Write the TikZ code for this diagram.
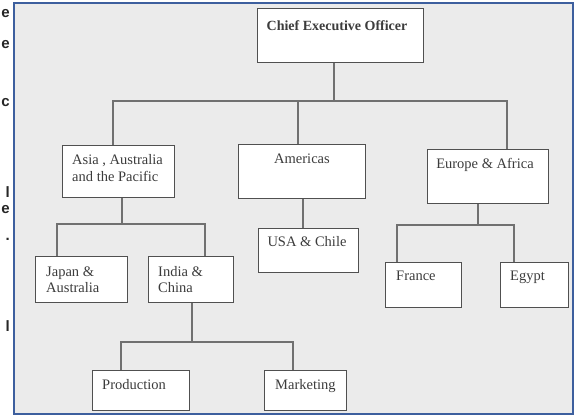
\documentclass[tikz,border=0pt]{standalone}
\usepackage{fontspec}
\setmainfont{Liberation Serif}
\newfontfamily\edgefont{Liberation Sans}
\definecolor{boxline}{HTML}{505050}
\definecolor{linkgray}{HTML}{707070}
\definecolor{txt}{HTML}{3C3C3C}
\definecolor{framebl}{HTML}{3D5F9E}
\definecolor{panel}{HTML}{EBEBEB}
\begin{document}
\begin{tikzpicture}[x=1pt,y=-1pt,
  box/.style={draw=boxline, fill=white, line width=1.3pt, rectangle,
    inner sep=0pt, anchor=north west},
  lbl/.style={text=txt, font=\fontsize{14.5}{17}\selectfont, inner sep=0pt,
    anchor=base west},
  lblc/.style={lbl, anchor=base},
  link/.style={draw=linkgray, line width=1.4pt},
  edgeglyph/.style={text=black!85, font=\edgefont\bfseries\fontsize{15}{15}\selectfont,
    inner sep=0pt, anchor=base east}]
\useasboundingbox (0,0) rectangle (575,416);

% page background and framed panel
\fill[white] (0,0) rectangle (575,416);
\fill[panel] (14,3) rectangle (573,414);
\draw[framebl, line width=2.4pt] (14,3) rectangle (573,414);

% ends of the neighbouring text column
\begin{scope}
  \clip (0,0) rectangle (11,416);
  \node[edgeglyph] (g1) at (10,17) {e};
  \node[edgeglyph] (g2) at (10,48) {e};
  \node[edgeglyph] (g3) at (10,106) {c};
  \node[edgeglyph] (g4) at (10,197) {l};
  \node[edgeglyph] (g5) at (10,213) {e};
  \node[edgeglyph] (g6) at (10,240) {.};
  \node[edgeglyph] (g7) at (10,331) {l};
\end{scope}

% boxes
\node[box, minimum width=166pt, minimum height=54pt] (ceo)    at (257,8)   {};
\node[box, minimum width=112pt, minimum height=52pt] (asia)   at (62,145)  {};
\node[box, minimum width=127pt, minimum height=54pt] (amer)   at (238,144) {};
\node[box, minimum width=121pt, minimum height=54pt] (eur)    at (427,149) {};
\node[box, minimum width=100pt, minimum height=44pt] (usa)    at (258,228) {};
\node[box, minimum width=92pt,  minimum height=46pt] (japan)  at (35,256)  {};
\node[box, minimum width=85pt,  minimum height=46pt] (india)  at (148,256) {};
\node[box, minimum width=76pt,  minimum height=45pt] (france) at (385,262) {};
\node[box, minimum width=68pt,  minimum height=45pt] (egypt)  at (500,262) {};
\node[box, minimum width=97pt,  minimum height=40pt] (prod)   at (92,370)  {};
\node[box, minimum width=82pt,  minimum height=40pt] (mkt)    at (264,370) {};

% labels
\node[lblc, font=\bfseries\fontsize{14}{17}\selectfont] (tceo) at (337,30) {Chief Executive Officer};
\node[lbl] (tasia1) at (72,164) {Asia , Australia};
\node[lbl] (tasia2) at (72,181) {and the Pacific};
\node[lblc] (tamer) at (302,163) {Americas};
\node[lblc] (teur) at (485,168) {Europe \& Africa};
\node[lblc] (tusa) at (307,246) {USA \& Chile};
\node[lbl] (tjap1) at (46,276) {Japan \&};
\node[lbl] (tjap2) at (46,292) {Australia};
\node[lbl] (tind1) at (158,276) {India \&};
\node[lbl] (tind2) at (158,292) {China};
\node[lbl] (tfra) at (396,280) {France};
\node[lbl] (tegy) at (510,280) {Egypt};
\node[lbl] (tprod) at (102,389) {Production};
\node[lbl] (tmkt) at (275,389) {Marketing};

% junction points
\coordinate (jtop) at (334,101);
\coordinate (jasia) at (122,224);
\coordinate (jeur) at (478,225);
\coordinate (jind) at (192,342);

% connectors
\draw[link] (ceo.south -| jtop) -- (jtop);
\draw[link] (asia.north -| 113,0) |- (jtop) -| (eur.north -| 507,0);
\draw[link] (amer.north -| 298,0) -- (298,101);
\draw[link] (asia.south -| jasia) -- (jasia);
\draw[link] (japan.north -| 57,0) |- (jasia) -| (india.north -| 205,0);
\draw[link] (amer.south -| 303,0) -- (usa.north -| 303,0);
\draw[link] (eur.south -| jeur) -- (jeur);
\draw[link] (france.north -| 397,0) |- (jeur) -| (egypt.north -| 514,0);
\draw[link] (india.south -| jind) -- (jind);
\draw[link] (prod.north -| 121,0) |- (jind) -| (mkt.north -| 293,0);
\end{tikzpicture}
\end{document}
